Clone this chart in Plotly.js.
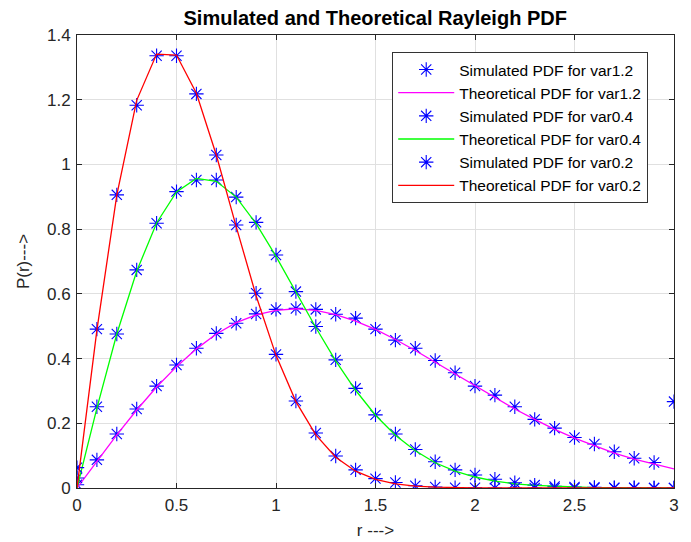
<!DOCTYPE html>
<html>
<head>
<meta charset="utf-8">
<script src="https://cdn.plot.ly/plotly-3.0.1.min.js"></script>
<style>html,body{margin:0;padding:0;background:#fff;}#chart{width:691px;height:542px;}</style>
</head>
<body>
<div id="chart"></div>
<script>
const r = [0,0.1,0.2,0.3,0.4,0.5,0.6,0.7,0.8,0.9,1.0,1.1,1.2,1.3,1.4,1.5,1.6,1.7,1.8,1.9,2.0,2.1,2.2,2.3,2.4,2.5,2.6,2.7,2.8,2.9,3.0];

const simVar12 = [0.010,0.087,0.167,0.244,0.315,0.380,0.432,0.478,0.509,0.538,0.552,0.555,0.552,0.537,0.525,0.491,0.457,0.432,0.394,0.356,0.315,0.287,0.251,0.212,0.185,0.156,0.136,0.112,0.092,0.079,0.267];
const theoVar12 = [0,0.083,0.164,0.241,0.312,0.375,0.430,0.476,0.511,0.535,0.549,0.554,0.549,0.536,0.516,0.490,0.459,0.425,0.389,0.352,0.315,0.279,0.244,0.212,0.181,0.154,0.130,0.108,0.089,0.073,0.059];

const simVar04 = [0.031,0.251,0.476,0.674,0.818,0.916,0.952,0.952,0.899,0.821,0.720,0.607,0.499,0.396,0.308,0.226,0.167,0.119,0.081,0.056,0.040,0.027,0.016,0.009,0.005,0.003,0.002,0.001,0.001,0.000,0.000];
const theoVar04 = [0,0.247,0.476,0.670,0.819,0.915,0.957,0.948,0.899,0.817,0.716,0.606,0.496,0.393,0.302,0.225,0.163,0.115,0.078,0.052,0.034,0.021,0.013,0.008,0.005,0.003,0.001,0.001,0.000,0.000,0.000];

const simVar02 = [0.063,0.491,0.906,1.183,1.336,1.336,1.218,1.029,0.813,0.602,0.413,0.269,0.170,0.099,0.056,0.029,0.017,0.007,0.003,0.001,0.001,0.000,0.000,0.000,0.000,0.000,0.000,0.000,0.000,0.000,0.000];
const theoVar02 = [0,0.488,0.905,1.198,1.341,1.338,1.220,1.029,0.808,0.594,0.410,0.267,0.164,0.095,0.052,0.027,0.013,0.006,0.003,0.001,0.000,0.000,0.000,0.000,0.000,0.000,0.000,0.000,0.000,0.000,0.000];

const names = ['Simulated PDF for var1.2','Theoretical PDF for var1.2','Simulated PDF for var0.4','Theoretical PDF for var0.4','Simulated PDF for var0.2','Theoretical PDF for var0.2'];
const xTicks = [0,0.5,1,1.5,2,2.5,3];
const xTickText = ['0','0.5','1','1.5','2','2.5','3'];
const yTicks = [0,0.2,0.4,0.6,0.8,1,1.2,1.4];
const yTickText = ['0','0.2','0.4','0.6','0.8','1','1.2','1.4'];

function sim(y, name){
  return {x:r, y:y, name:name, type:'scatter', mode:'markers',
    marker:{symbol:'asterisk-open', size:12, color:'#0000ff', line:{color:'#0000ff', width:1.1}}};
}
function theo(y, name, color){
  return {x:r, y:y, name:name, type:'scatter', mode:'lines', line:{color:color, width:1.3}};
}

const data = [
  sim(simVar12, names[0]), theo(theoVar12, names[1], '#ff00ff'),
  sim(simVar04, names[2]), theo(theoVar04, names[3], '#00ff00'),
  sim(simVar02, names[4]), theo(theoVar02, names[5], '#ff0000')
];

const FONT = 'Liberation Sans, Arial, sans-serif';
const axisCommon = {
  showgrid:true, gridcolor:'#e0e0e0', gridwidth:1,
  showline:true, linecolor:'#262626', linewidth:1, mirror:'ticks',
  ticks:'inside', ticklen:5, tickcolor:'#262626',
  zeroline:false, tickfont:{family:FONT, size:17, color:'#262626'}
};

const layout = {
  width:691, height:542,
  margin:{l:77, r:17, t:35, b:54},
  paper_bgcolor:'#ffffff', plot_bgcolor:'#ffffff',
  font:{family:FONT, color:'#262626'},
  title:{text:'<b>Simulated and Theoretical Rayleigh PDF</b>', font:{size:20, color:'#000000'}, x:0.543, xanchor:'center', y:1-18/542, yanchor:'middle'},
  xaxis:Object.assign({}, axisCommon, {range:[0,3], tickvals:xTicks, ticktext:xTickText, ticklabelstandoff:2,
    title:{text:'r --->', font:{size:17, color:'#262626'}, standoff:9}}),
  yaxis:Object.assign({}, axisCommon, {range:[0,1.4], tickvals:yTicks, ticktext:yTickText, ticklabelstandoff:2,
    title:{text:'P(r)--->', font:{size:17, color:'#262626'}, standoff:13}}),
  showlegend:true,
  legend:{x:0.528, y:0.9625, xanchor:'left', yanchor:'top', bgcolor:'#ffffff', bordercolor:'#333333', borderwidth:1,
    font:{size:15.5, family:FONT, color:'#000000'}, itemwidth:56, tracegroupgap:0},
};

Plotly.newPlot('chart', data, layout, {displayModeBar:false, staticPlot:true});
</script>
</body>
</html>
